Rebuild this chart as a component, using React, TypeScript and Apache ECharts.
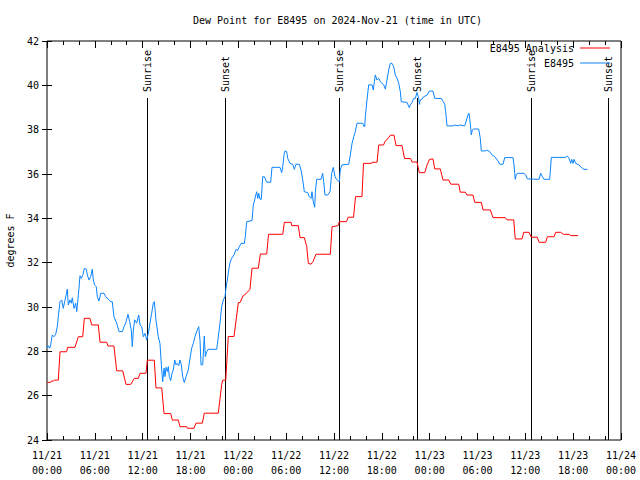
import React, { useEffect, useRef } from "react";
import * as echarts from "echarts";

const TITLE = "Dew Point for E8495 on 2024-Nov-21 (time in UTC)";
const Y_NAME = "degrees F";
const FONT = "DejaVu Sans Mono";

// hours since 2024-11-21 00:00 UTC
const xTickLabels = [
  "11/21\n00:00", "11/21\n06:00", "11/21\n12:00", "11/21\n18:00",
  "11/22\n00:00", "11/22\n06:00", "11/22\n12:00", "11/22\n18:00",
  "11/23\n00:00", "11/23\n06:00", "11/23\n12:00", "11/23\n18:00",
  "11/24\n00:00",
];

const sunHours = [12.54, 22.33, 36.63, 46.41, 60.71, 70.37];
const sunLabels = ["Sunrise", "Sunset", "Sunrise", "Sunset", "Sunrise", "Sunset"];

const analysisName = "E8495 Analysis";
const stationName = "E8495";

const analysisPoints = [
  [0, 26.6], [0.46, 26.6], [0.56, 26.66], [0.79, 26.66], [0.92, 26.7], [1.42, 26.7], [1.63, 27.98], [2.47, 27.98],
  [2.57, 28.18], [3.51, 28.18], [3.8, 28.51], [3.93, 28.66], [4.48, 28.66], [4.68, 29.49], [5.39, 29.49], [5.61, 29.19],
  [6.44, 29.19], [6.65, 28.41], [7.49, 28.41], [7.65, 28.24], [8.4, 28.24], [8.74, 27.12], [9.5, 27.12], [9.91, 26.51],
  [10.5, 26.51], [10.95, 26.78], [11.45, 26.78], [11.67, 27.01], [12.42, 27.01], [12.58, 27.6], [13.46, 27.6], [13.67, 26.35],
  [14.39, 26.35], [14.68, 25.19], [15.52, 25.19], [15.72, 24.9], [16.47, 24.9], [16.68, 24.6], [17.52, 24.6], [17.6, 24.53],
  [18.44, 24.53], [18.69, 24.76], [19.48, 24.76], [19.73, 25.21], [21.49, 25.21], [21.91, 26.5], [22.04, 26.7], [22.42, 26.7],
  [22.74, 28.67], [23.46, 28.67], [24.0, 30.2], [24.21, 30.2], [24.59, 30.5], [24.96, 30.6], [25.46, 30.8], [25.72, 31.75],
  [26.51, 31.75], [26.76, 32.39], [27.56, 32.39], [27.79, 33.28], [29.57, 33.28], [29.77, 33.82], [30.61, 33.82], [30.69, 33.67],
  [31.52, 33.67], [31.74, 33.13], [32.28, 33.13], [32.58, 32.72], [32.78, 31.97], [33.12, 31.93], [33.37, 32.05], [33.74, 32.38],
  [35.54, 32.38], [35.75, 33.62], [36.5, 33.67], [36.67, 33.85], [37.57, 33.85], [37.78, 34.05], [38.45, 34.05], [38.7, 34.98],
  [39.51, 34.98], [39.7, 36.48], [40.7, 36.48], [40.77, 36.53], [41.4, 36.53], [41.61, 37.31], [42.21, 37.31], [42.44, 37.49],
  [42.78, 37.6], [43.06, 37.75], [43.53, 37.75], [43.78, 37.28], [44.53, 37.28], [44.84, 36.7], [45.6, 36.7], [45.79, 36.54],
  [46.41, 36.54], [46.7, 36.06], [47.38, 36.06], [47.67, 36.4], [47.98, 36.66], [48.42, 36.68], [48.63, 36.23], [49.33, 36.23],
  [49.67, 35.73], [50.39, 35.73], [50.64, 35.54], [51.64, 35.54], [51.84, 35.18], [52.47, 35.18], [52.68, 35.05], [53.44, 35.05],
  [53.65, 34.72], [54.48, 34.72], [54.69, 34.38], [55.61, 34.38], [55.95, 34.03], [57.49, 34.03], [57.7, 33.93], [58.54, 33.93],
  [58.74, 33.07], [59.58, 33.07], [59.8, 33.37], [60.46, 33.37], [60.75, 33.15], [61.5, 33.15], [61.72, 32.92], [62.56, 32.92],
  [62.76, 33.17], [63.6, 33.17], [63.81, 33.37], [64.44, 33.37], [64.76, 33.28], [65.48, 33.28], [65.69, 33.22], [66.61, 33.22],
];

const stationPoints = [
  [0, 28.17], [0.13, 28.26], [0.34, 28.14], [0.46, 28.29], [0.66, 28.74], [0.88, 28.66], [1.09, 28.77], [1.29, 29.11],
  [1.42, 29.56], [1.63, 30.24], [1.84, 30.32], [2.04, 29.94], [2.22, 30.24], [2.42, 30.57], [2.55, 30.81], [2.67, 30.09],
  [2.89, 30.32], [3.05, 30.17], [3.17, 30.42], [3.39, 29.94], [3.6, 30.17], [3.73, 29.79], [3.89, 30.39], [4.01, 30.84],
  [4.14, 31.41], [4.3, 31.29], [4.52, 31.47], [4.68, 31.74], [4.93, 31.71], [5.06, 31.44], [5.27, 31.22], [5.48, 31.37],
  [5.68, 31.71], [5.81, 31.22], [5.98, 30.99], [6.18, 30.92], [6.31, 30.47], [6.52, 30.27], [6.74, 30.62], [7.15, 30.62],
  [7.36, 30.47], [7.78, 30.32], [7.99, 30.24], [8.19, 30.24], [8.4, 29.56], [8.74, 29.27], [9.03, 28.89], [9.45, 28.89],
  [9.66, 29.11], [9.87, 29.27], [10.16, 29.67], [10.37, 29.34], [10.57, 28.96], [10.7, 28.21], [10.83, 28.96], [11.0, 29.42],
  [11.25, 29.27], [11.5, 29.64], [11.67, 29.19], [11.88, 29.11], [12.08, 28.66], [12.29, 28.81], [12.51, 28.51], [12.71, 28.81],
  [12.92, 29.27], [13.13, 29.72], [13.33, 30.17], [13.46, 30.24], [13.67, 29.42], [13.96, 28.66], [14.17, 28.36], [14.39, 27.16],
  [14.51, 26.63], [14.68, 27.24], [14.8, 26.86], [14.93, 27.28], [15.09, 27.09], [15.22, 27.31], [15.34, 26.86], [15.52, 26.68],
  [15.68, 27.01], [15.84, 27.16], [16.02, 27.61], [16.18, 27.39], [16.34, 27.46], [16.52, 27.35], [16.68, 27.61], [16.85, 27.39],
  [17.02, 26.86], [17.22, 26.59], [17.44, 26.86], [17.72, 27.16], [17.94, 27.69], [18.15, 28.14], [18.35, 28.36], [18.56, 28.66],
  [18.85, 28.96], [19.03, 29.11], [19.19, 28.51], [19.32, 27.39], [19.53, 27.39], [19.73, 28.69], [19.86, 27.76], [20.03, 27.98],
  [20.23, 28.09], [21.29, 28.09], [21.49, 28.66], [21.7, 29.27], [21.91, 30.02], [22.12, 30.32], [22.33, 30.47], [22.45, 30.84],
  [22.62, 31.22], [22.79, 31.67], [22.96, 32.0], [23.17, 32.2], [23.46, 32.35], [23.71, 32.6], [23.92, 32.55], [24.12, 32.72],
  [24.34, 32.87], [24.75, 32.87], [24.87, 33.17], [25.05, 33.85], [25.72, 33.9], [25.88, 34.6], [26.09, 34.9], [26.3, 35.2],
  [26.43, 34.9], [26.56, 35.13], [26.72, 34.86], [26.88, 34.86], [27.06, 35.88], [27.26, 35.88], [27.56, 35.63], [28.06, 35.63],
  [28.22, 36.3], [28.94, 36.3], [29.23, 36.3], [29.44, 36.06], [29.57, 36.33], [29.73, 36.86], [29.85, 37.04], [30.07, 37.01],
  [30.19, 36.71], [30.48, 36.48], [30.82, 36.44], [31.02, 36.21], [31.23, 36.44], [31.65, 36.44], [31.86, 36.18], [32.07, 35.76],
  [32.28, 35.2], [32.7, 35.16], [32.9, 34.98], [33.12, 34.9], [33.24, 35.2], [33.4, 34.75], [33.58, 34.5], [33.66, 35.2],
  [33.83, 35.76], [34.37, 35.76], [34.58, 36.03], [34.71, 35.65], [34.87, 35.05], [35.21, 35.05], [35.5, 35.2], [35.71, 36.03],
  [35.91, 36.3], [36.13, 35.88], [36.25, 35.8], [36.47, 35.7], [36.67, 35.65], [36.79, 36.18], [37.0, 36.41], [37.85, 36.44],
  [38.05, 36.86], [38.26, 37.38], [38.47, 37.68], [38.67, 37.91], [38.89, 38.29], [39.6, 38.29], [39.76, 38.14], [39.85, 38.14],
  [39.93, 38.59], [40.14, 39.34], [40.35, 40.02], [40.77, 40.02], [40.93, 39.79], [41.06, 40.16], [41.18, 40.47], [41.39, 40.24],
  [41.61, 40.32], [41.81, 40.16], [42.02, 40.09], [42.24, 40.02], [42.44, 39.83], [42.65, 40.24], [42.86, 40.69], [43.06, 40.99],
  [43.28, 40.99], [43.49, 40.84], [43.69, 40.47], [43.9, 40.32], [44.12, 40.09], [44.32, 39.71], [44.44, 39.26], [45.16, 39.23],
  [45.45, 38.99], [45.57, 39.11], [45.79, 39.23], [46.0, 39.41], [46.2, 39.41], [46.41, 39.68], [46.63, 39.41], [46.7, 39.14],
  [46.83, 39.34], [47.04, 39.38], [47.25, 39.49], [47.45, 39.52], [47.67, 39.56], [47.96, 39.74], [48.29, 39.74], [48.42, 39.74],
  [48.63, 39.41], [49.46, 39.41], [49.67, 39.29], [49.89, 39.14], [50.01, 38.81], [50.18, 38.17], [50.93, 38.17], [51.22, 38.21],
  [51.56, 38.17], [51.77, 38.21], [52.4, 38.17], [52.52, 38.31], [52.68, 38.51], [52.81, 38.66], [52.93, 38.74], [53.02, 38.51],
  [53.15, 38.06], [53.22, 37.76], [53.35, 37.99], [53.52, 38.03], [54.15, 38.03], [54.35, 37.61], [54.48, 37.04], [54.98, 37.04],
  [55.19, 37.08], [55.53, 37.01], [55.82, 36.86], [56.16, 36.78], [56.57, 36.59], [56.79, 36.44], [57.2, 36.44], [57.42, 36.74],
  [58.45, 36.74], [58.58, 36.41], [58.67, 36.03], [58.74, 35.76], [58.87, 35.98], [59.08, 36.03], [59.83, 36.03], [60.05, 35.96],
  [60.25, 35.78], [61.72, 35.76], [61.93, 36.03], [62.13, 35.88], [62.34, 35.76], [63.06, 35.76], [63.26, 36.75], [65.07, 36.75],
  [65.27, 36.81], [65.48, 36.71], [65.69, 36.48], [65.82, 36.66], [65.98, 36.48], [66.11, 36.66], [66.32, 36.48], [66.73, 36.41],
  [67.15, 36.26], [67.36, 36.21], [67.78, 36.21],
];

const X_MIN = 0;
const X_MAX = 72;
const X_STEP = 6;
const Y_MIN = 24;
const Y_MAX = 42;
const Y_STEP = 2;

const RED = "#ff0000";
const BLUE = "#0a84ff";

export default function App() {
  const ref = useRef<HTMLDivElement>(null);

  useEffect(() => {
    if (!ref.current) return;
    const chart = echarts.init(ref.current, undefined, { renderer: "svg" });

    const textBase = { fontFamily: FONT, fontSize: 10, color: "#000" };

    const xCommon = {
      type: "value" as const,
      min: X_MIN,
      max: X_MAX,
      interval: X_STEP,
      splitLine: { show: false },
      axisLine: { show: false },
      axisTick: { show: true, inside: true, length: 7, lineStyle: { color: "#000", width: 1 } },
      minorTick: { show: true, splitNumber: 3, length: 4, lineStyle: { color: "#000", width: 1 } },
      minorSplitLine: { show: false },
    };
    const yCommon = {
      type: "value" as const,
      min: Y_MIN,
      max: Y_MAX,
      interval: Y_STEP,
      splitLine: { show: false },
      axisLine: { show: false },
      axisTick: { show: true, inside: true, length: 5, lineStyle: { color: "#000", width: 1 } },
    };

    chart.setOption({
      animation: false,
      backgroundColor: "#fff",
      title: {
        text: TITLE,
        left: 188,
        top: 10,
        textStyle: { ...textBase, fontWeight: "normal" },
      },
      grid: {
        left: 47,
        right: 19,
        top: 41,
        bottom: 40,
        containLabel: false,
        outerBoundsMode: "none",
        show: true,
        borderColor: "#000",
        borderWidth: 1,
        backgroundColor: "transparent",
      },
      legend: [
        {
          data: [analysisName],
          right: 25,
          top: 38,
          icon: "rect",
          itemWidth: 30,
          itemHeight: 1,
          align: "right",
          selectedMode: false,
          textStyle: { ...textBase, padding: [0, 1, 0, 0] },
        },
        {
          data: [stationName],
          right: 25,
          top: 53,
          icon: "rect",
          itemWidth: 30,
          itemHeight: 1,
          align: "right",
          selectedMode: false,
          textStyle: { ...textBase, padding: [0, 1, 0, 0] },
        },
      ],
      xAxis: [
        {
          ...xCommon,
          position: "bottom",
          axisLabel: {
            ...textBase,
            margin: 8,
            lineHeight: 15,
            formatter: (v: number) => xTickLabels[Math.round((v - X_MIN) / X_STEP)] ?? "",
          },
        },
        {
          ...xCommon,
          position: "top",
          axisLabel: { show: false },
        },
      ],
      yAxis: [
        {
          ...yCommon,
          position: "left",
          name: Y_NAME,
          nameLocation: "middle",
          nameGap: 32,
          nameRotate: 90,
          nameTextStyle: textBase,
          axisLabel: { ...textBase, margin: 8 },
        },
        {
          ...yCommon,
          position: "right",
          axisLabel: { show: false },
        },
      ],
      series: [
        {
          type: "custom",
          name: "sun",
          xAxisIndex: 0,
          yAxisIndex: 0,
          silent: true,
          z: 1,
          data: sunHours.map((t) => [t, Y_MAX]),
          renderItem: (params: any, api: any) => {
            const t = api.value(0);
            const bottom = api.coord([t, Y_MIN]);
            const top = api.coord([t, Y_MAX]);
            const x = Math.round(bottom[0]) + 0.5;
            return {
              type: "group",
              children: [
                {
                  type: "line",
                  shape: { x1: x, y1: top[1] + 57, x2: x, y2: bottom[1] },
                  style: { stroke: "#000", lineWidth: 1 },
                },
                {
                  type: "text",
                  x: x,
                  y: top[1] + 51,
                  rotation: Math.PI / 2,
                  style: {
                    text: sunLabels[params.dataIndex],
                    fill: "#000",
                    font: `10px "${FONT}"`,
                    align: "left",
                    verticalAlign: "middle",
                  },
                },
              ],
            };
          },
        },
        {
          type: "line",
          name: analysisName,
          xAxisIndex: 0,
          yAxisIndex: 0,
          data: analysisPoints,
          showSymbol: false,
          symbol: "none",
          color: RED,
          lineStyle: { color: RED, width: 1 },
          z: 3,
        },
        {
          type: "line",
          name: stationName,
          xAxisIndex: 0,
          yAxisIndex: 0,
          data: stationPoints,
          showSymbol: false,
          symbol: "none",
          color: BLUE,
          lineStyle: { color: BLUE, width: 1 },
          z: 3,
        },
      ],
    });

    return () => chart.dispose();
  }, []);

  return (
    <div
      ref={ref}
      style={{ position: "fixed", left: 0, top: 0, width: 640, height: 480, background: "#fff" }}
    />
  );
}
